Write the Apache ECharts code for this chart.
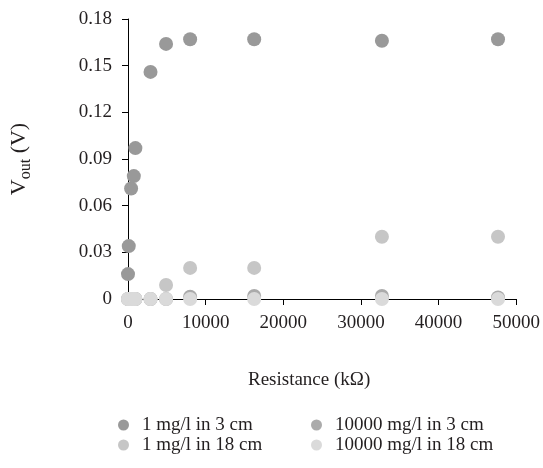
<!DOCTYPE html>
<html>
<head>
<meta charset="utf-8">
<script src="https://cdn.jsdelivr.net/npm/echarts@6/dist/echarts.min.js"></script>
<style>html,body{margin:0;padding:0;background:#fff}#c{width:543px;height:468px}</style>
</head>
<body>
<div id="c"></div>
<script>
var seriesNames = ['1 mg/l in 3 cm', '10000 mg/l in 3 cm', '1 mg/l in 18 cm', '10000 mg/l in 18 cm'];
var resistance = [0, 100, 400, 750, 950, 2900, 4900, 8000, 16250, 32700, 47650];
var v1mg3cm   = [0.016, 0.034, 0.071, 0.079, 0.097, 0.146, 0.164, 0.167, 0.167, 0.166, 0.167];
var v10000mg3cm = [0, 0, 0, 0, 0, 0, 0, 0.0015, 0.002, 0.002, 0.001];
var v1mg18cm  = [0, 0, 0, 0, 0, 0, 0.009, 0.020, 0.020, 0.040, 0.040];
var v10000mg18cm = [0, 0, 0, 0, 0, 0, 0, 0, 0, 0, 0];
var xTicks = [0, 10000, 20000, 30000, 40000, 50000];
var yTicks = [0, 0.03, 0.06, 0.09, 0.12, 0.15, 0.18];
var colors = ['#999999', '#ababab', '#c6c6c6', '#dadada'];

function pairs(xs, ys) { return xs.map(function (x, i) { return [x, ys[i]]; }); }
var allValues = [v1mg3cm, v10000mg3cm, v1mg18cm, v10000mg18cm];

var font = 'Liberation Serif';
var txt = '#231f20';
var fs = 19;
var chart = echarts.init(document.getElementById('c'), null, {renderer: 'canvas'});
var legendStyle = {fontFamily: font, fontSize: fs, color: txt, lineHeight: 20, padding: [0, 0, 0, 8]};
chart.setOption({
  animation: false,
  color: colors,
  textStyle: {fontFamily: font},
  grid: {left: 126, right: 24, top: 19, bottom: 169},
  legend: [
    {data: [seriesNames[0], seriesNames[2]], orient: 'vertical', left: 118, top: 415, padding: 0,
     icon: 'circle', itemWidth: 11, itemHeight: 11, itemGap: 0, selectedMode: false,
     textStyle: legendStyle},
    {data: [seriesNames[1], seriesNames[3]], orient: 'vertical', left: 311, top: 415, padding: 0,
     icon: 'circle', itemWidth: 11, itemHeight: 11, itemGap: 0, selectedMode: false,
     textStyle: legendStyle}
  ],
  xAxis: {
    type: 'value', min: xTicks[0], max: xTicks[xTicks.length - 1], interval: 10000,
    name: 'Resistance (k\u03a9)', nameLocation: 'middle', nameGap: 72,
    nameTextStyle: {fontFamily: font, fontSize: fs, color: txt, padding: [0, 26, 0, 0]},
    axisLine: {lineStyle: {color: '#000', width: 1}},
    axisTick: {show: true, inside: false, length: 6, lineStyle: {color: '#000'}},
    axisLabel: {fontFamily: font, fontSize: fs, color: txt, margin: 15,
      formatter: function (v) { return String(v); }},
    splitLine: {show: false}
  },
  yAxis: {
    type: 'value', min: yTicks[0], max: yTicks[yTicks.length - 1], interval: 0.03,
    name: '{a|V}{s|out}{a| (V)}', nameLocation: 'middle', nameGap: 98, nameRotate: 90,
    nameTextStyle: {fontFamily: font, fontSize: 22, color: txt,
      rich: {a: {fontFamily: font, fontSize: 22, color: txt, verticalAlign: 'bottom'},
             s: {fontFamily: font, fontSize: 16, color: txt, verticalAlign: 'bottom', padding: [0, 0, -4, 0]}}},
    axisLine: {show: true, lineStyle: {color: '#000', width: 1}},
    axisTick: {show: true, inside: false, length: 6, lineStyle: {color: '#000'}},
    axisLabel: {fontFamily: font, fontSize: fs, color: txt, margin: 16,
      formatter: function (v) { return v === 0 ? '0' : v.toFixed(2); }},
    splitLine: {show: false}
  },
  series: seriesNames.map(function (n, i) {
    return {name: n, type: 'scatter', symbol: 'circle', symbolSize: 14,
      itemStyle: {color: colors[i], opacity: 1}, z: 2 + i,
      data: pairs(resistance, allValues[i])};
  })
});
</script>
</body>
</html>
